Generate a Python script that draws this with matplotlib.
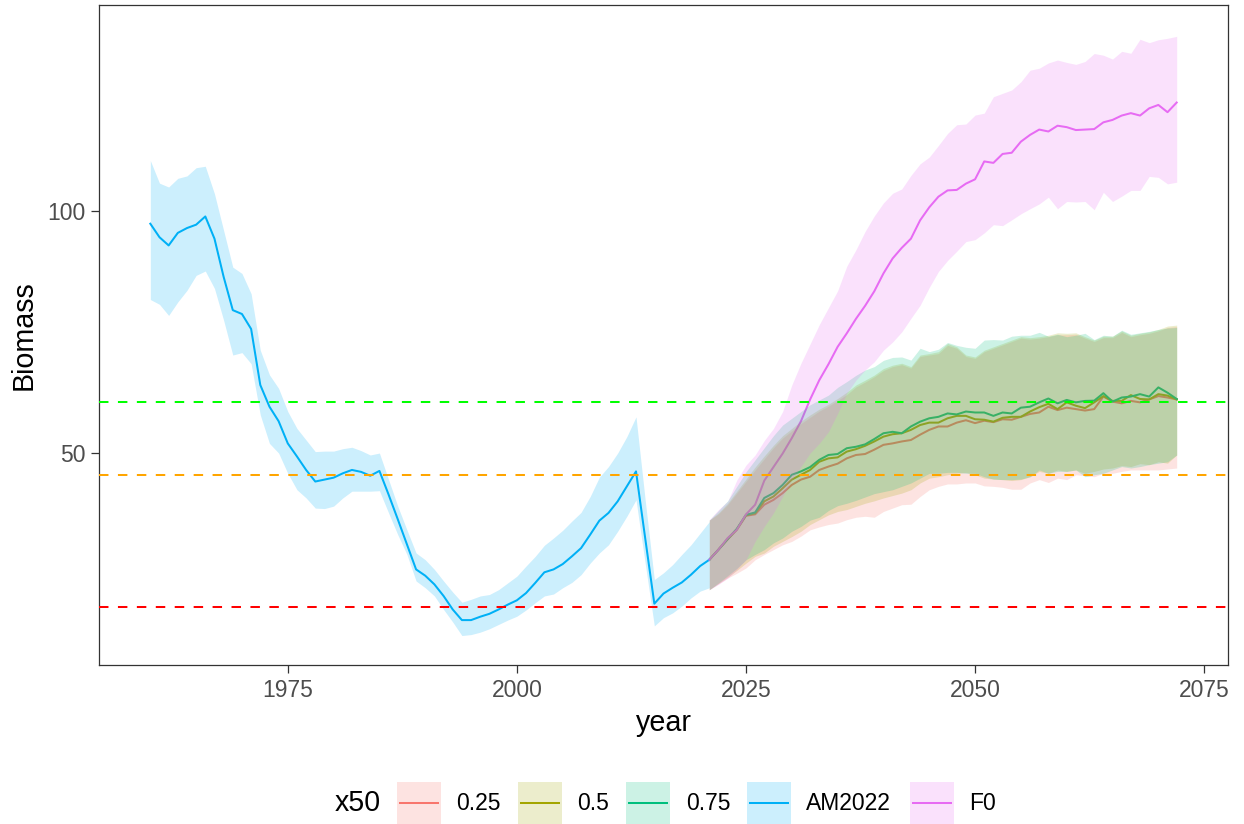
import matplotlib
matplotlib.use("Agg")
import matplotlib.pyplot as plt
from matplotlib.patches import Rectangle
from matplotlib.lines import Line2D
import numpy as np

plt.rcParams['font.family'] = ['Liberation Sans', 'DejaVu Sans']

# ---------------- data ----------------
years_hist = list(range(1960, 2022))
am_mid = [97.4, 94.6, 92.9, 95.5, 96.5, 97.2, 98.9, 94.3, 86.4, 79.5,
          78.7, 75.6, 64.0, 59.5, 56.5, 51.9, 49.2, 46.4, 44.0, 44.4,
          44.8, 45.7, 46.4, 46.0, 45.2, 46.2, 41.3, 36.2, 31.0, 25.8,
          24.5, 22.7, 20.3, 17.5, 15.3, 15.3, 16.0, 16.6, 17.5, 18.5,
          19.4, 20.9, 23.0, 25.2, 25.8, 26.9, 28.5, 30.2, 33.0, 35.9,
          37.5, 39.9, 43.0, 46.1, 32.3, 18.7, 20.8, 22.0, 23.1, 24.7,
          26.5, 27.8]
am_hi = [110.5, 105.8, 105.0, 106.8, 107.3, 109.0, 109.3, 103.6, 96.0, 88.4,
         87.1, 82.9, 71.2, 66.1, 63.3, 58.5, 55.0, 52.6, 50.2, 50.3,
         50.3, 50.8, 51.1, 50.4, 49.5, 49.9, 44.4, 38.9, 34.0, 29.2,
         27.8, 25.8, 23.4, 21.1, 19.0, 19.6, 20.3, 20.6, 21.6, 23.0,
         24.4, 26.5, 28.5, 30.8, 32.3, 33.9, 35.8, 37.6, 40.9, 44.9,
         47.1, 49.9, 53.3, 57.4, 40.2, 23.7, 25.1, 26.8, 28.9, 30.9,
         33.3, 35.7]
am_lo = [81.7, 80.7, 78.4, 81.2, 83.6, 86.7, 87.6, 84.0, 77.4, 70.2,
         70.7, 68.4, 57.8, 51.9, 49.9, 45.7, 42.3, 40.6, 38.5, 38.4,
         38.9, 40.6, 42.0, 42.0, 42.0, 42.1, 37.5, 33.0, 28.9, 23.4,
         22.0, 20.3, 17.5, 14.9, 12.1, 12.3, 12.8, 13.5, 14.4, 15.3,
         16.1, 17.4, 18.9, 20.3, 20.7, 22.0, 23.1, 24.7, 27.1, 29.2,
         30.9, 33.7, 36.8, 40.2, 27.1, 14.1, 15.8, 16.8, 18.2, 19.9,
         21.3, 22.0]

years_proj = list(range(2021, 2073))

q25_mid = [27.8, 29.9, 32.0, 34.0, 36.9, 37.2, 39.2, 40.2, 41.6, 43.3,
           44.4, 45.0, 46.4, 47.1, 47.7, 48.8, 49.5, 49.7, 50.6, 51.6,
           51.9, 52.3, 52.6, 53.7, 54.7, 55.4, 55.4, 56.2, 56.7, 56.1,
           56.6, 56.3, 56.9, 56.8, 57.4, 58.0, 58.3, 59.5, 58.8, 59.3,
           59.0, 58.7, 59.0, 61.6, 60.55, 60.2, 60.7, 60.4, 61.0, 61.7,
           61.4, 61.0]
q25_hi = [36.0, 37.3, 39.2, 41.6, 44.0, 46.4, 48.7, 51.0, 53.0, 54.5,
          56.0, 57.3, 58.6, 59.6, 60.8, 62.0, 63.6, 64.6, 65.7, 67.0,
          67.8, 68.2, 67.5, 69.9, 70.2, 70.5, 72.2, 71.6, 69.9, 69.5,
          70.9, 71.6, 72.3, 73.0, 73.7, 73.5, 73.7, 74.0, 74.4, 74.4,
          74.5, 73.7, 73.0, 73.8, 73.8, 74.9, 74.0, 74.4, 74.7, 75.2,
          75.9, 76.1]
q25_lo = [21.6, 22.8, 24.0, 25.0, 26.1, 27.8, 28.9, 29.9, 30.9, 31.6,
          32.7, 34.0, 34.6, 35.1, 35.4, 36.1, 36.6, 36.8, 36.6, 37.8,
          38.5, 39.2, 39.3, 40.9, 42.3, 43.0, 43.5, 43.5, 43.7, 43.7,
          43.1, 43.0, 42.8, 42.4, 42.4, 43.7, 44.4, 43.8, 44.7, 44.4,
          45.4, 45.2, 45.0, 45.7, 45.7, 46.1, 46.4, 46.4, 46.4, 46.4,
          46.6, 46.8]

q50_mid = [27.8, 29.9, 32.1, 34.1, 37.0, 37.4, 39.9, 40.9, 42.6, 44.4,
           45.4, 46.4, 48.1, 48.8, 49.0, 50.2, 50.7, 51.4, 52.3, 53.3,
           53.8, 54.0, 54.7, 55.7, 56.2, 56.2, 57.1, 57.6, 57.6, 56.9,
           56.8, 56.4, 57.2, 57.4, 57.4, 58.5, 59.4, 60.1, 59.0, 60.4,
           59.7, 59.2, 60.4, 61.7, 60.7, 60.7, 61.9, 61.1, 61.0, 62.1,
           61.8, 61.0]
q50_hi = [36.0, 37.5, 39.5, 42.0, 44.5, 47.0, 49.3, 51.5, 53.5, 55.0,
          56.5, 57.8, 59.0, 60.0, 61.2, 62.5, 64.0, 65.0, 66.05, 67.4,
          68.1, 68.5, 67.8, 70.2, 70.5, 70.9, 72.6, 71.9, 70.2, 69.8,
          71.2, 71.9, 72.6, 73.3, 74.0, 73.8, 74.0, 74.3, 74.8, 74.7,
          74.8, 74.0, 73.3, 74.1, 74.1, 75.2, 74.3, 74.7, 75.0, 75.5,
          76.2, 76.4]
q50_lo = [21.6, 22.9, 24.2, 25.6, 27.1, 28.5, 29.2, 30.6, 31.6, 32.6,
          33.7, 35.1, 36.1, 37.1, 37.8, 38.2, 38.85, 39.5, 40.0, 40.6,
          41.1, 41.6, 42.3, 43.7, 44.7, 45.0, 45.4, 45.7, 45.9, 45.4,
          44.7, 44.5, 44.4, 44.2, 44.4, 45.0, 46.1, 45.7, 46.4, 46.1,
          46.4, 45.7, 46.1, 46.6, 46.8, 47.3, 47.1, 47.7, 47.5, 48.1,
          47.8, 49.5]

q75_mid = [27.8, 29.9, 32.1, 34.2, 37.1, 37.6, 40.6, 41.6, 43.3, 45.4,
           46.1, 47.0, 48.5, 49.5, 49.7, 50.9, 51.2, 51.7, 52.8, 54.0,
           54.3, 54.0, 55.4, 56.4, 57.1, 57.4, 58.1, 57.9, 58.5, 58.3,
           58.3, 57.6, 58.3, 58.1, 59.3, 59.5, 60.4, 61.2, 60.2, 60.9,
           60.4, 60.7, 60.75, 62.3, 60.55, 61.4, 61.6, 62.1, 61.6, 63.5,
           62.4, 61.1]
q75_hi = [36.0, 38.0, 40.0, 43.0, 46.0, 48.5, 51.0, 53.5, 55.7, 57.1,
          58.5, 59.9, 60.9, 61.9, 63.5, 64.7, 66.0, 67.1, 67.8, 69.1,
          69.7, 69.8, 69.15, 71.6, 70.9, 71.4, 72.8, 72.2, 71.8, 71.6,
          73.3, 73.4, 73.3, 74.1, 74.3, 74.3, 74.9, 74.1, 74.5, 74.0,
          74.3, 74.7, 73.4, 74.3, 74.1, 75.35, 74.5, 74.8, 75.1, 75.5,
          75.8, 75.9]
q75_lo = [21.6, 23.0, 24.5, 26.0, 27.8, 28.9, 29.9, 31.3, 32.3, 33.7,
          34.7, 36.0, 36.6, 38.0, 39.0, 39.5, 40.1, 40.8, 41.5, 41.9,
          42.3, 43.0, 43.7, 44.7, 45.7, 45.7, 45.9, 45.9, 45.7, 45.7,
          45.0, 44.5, 44.4, 44.4, 44.5, 45.0, 46.4, 45.7, 46.1, 46.1,
          46.4, 45.0, 45.4, 45.7, 46.4, 47.1, 46.8, 47.1, 47.5, 47.8,
          48.1, 49.5]

f0_mid = [27.8, 29.9, 32.3, 34.0, 37.2, 39.2, 44.2, 47.0, 49.8, 53.0,
          56.5, 61.0, 65.0, 68.3, 71.9, 74.7, 77.7, 80.4, 83.4, 87.1,
          90.2, 92.4, 94.3, 98.1, 100.8, 103.0, 104.3, 104.4, 105.7, 106.6,
          110.3, 110.0, 111.85, 112.1, 114.4, 115.8, 116.9, 116.5, 117.7, 117.4,
          116.8, 116.9, 117.0, 118.4, 118.9, 119.8, 120.3, 119.8, 121.3, 122.0,
          120.5, 122.5]
f0_hi = [36.1, 38.2, 39.9, 44.3, 47.4, 49.5, 52.5, 55.0, 58.5, 64.0,
         68.5, 72.5, 76.5, 80.0, 83.5, 88.6, 92.0, 95.8, 99.0, 101.7,
         103.7, 104.6, 107.4, 109.8, 111.2, 113.6, 116.1, 117.9, 118.05, 119.9,
         120.3, 123.7, 124.4, 125.1, 126.8, 129.2, 129.6, 130.7, 131.3, 130.8,
         130.4, 131.0, 132.65, 132.3, 131.5, 133.1, 132.7, 135.6, 134.9, 135.5,
         135.8, 136.2]
f0_lo = [21.6, 22.7, 24.0, 25.8, 27.8, 31.6, 34.7, 37.5, 40.9, 44.4,
         47.1, 49.9, 51.9, 54.3, 58.1, 62.3, 65.0, 67.1, 68.8, 71.2,
         72.9, 75.0, 77.8, 80.5, 84.2, 87.5, 89.8, 91.7, 93.7, 94.1,
         95.5, 97.2, 97.0, 98.2, 99.45, 100.5, 101.5, 102.9, 100.5, 102.0,
         101.9, 102.0, 100.3, 103.9, 102.0, 103.1, 104.3, 104.3, 107.2, 107.0,
         105.65, 106.0]

ref_levels = [60.5, 45.4, 18.1]
ref_colors = ['#00FF00', '#FFA500', '#FF0000']

series_names = ['0.25', '0.5', '0.75', 'AM2022', 'F0']
series_colors = ['#F8766D', '#A3A500', '#00BF7D', '#00B0F6', '#E76BF3']

x_ticks = [1975, 2000, 2025, 2050, 2075]
y_ticks = [50, 100]

# ---------------- figure ----------------
W, H = 1244, 824
fig = plt.figure(figsize=(W / 100, H / 100), dpi=100)
ax = fig.add_axes([99 / W, 1 - 665 / H, (1228 - 99) / W, (665 - 5) / H])

series = [
    (years_proj, q25_mid, q25_lo, q25_hi),
    (years_proj, q50_mid, q50_lo, q50_hi),
    (years_proj, q75_mid, q75_lo, q75_hi),
    (years_hist, am_mid, am_lo, am_hi),
    (years_proj, f0_mid, f0_lo, f0_hi),
]

lw = 1.45
for (xs, mid, lo, hi), col in zip(series, series_colors):
    ax.plot(xs, mid, color=col, lw=lw, zorder=2, solid_joinstyle='round')
for (xs, mid, lo, hi), col in zip(series, series_colors):
    ax.fill_between(xs, lo, hi, color=col, alpha=0.2, lw=0, zorder=3)

for lvl, col in zip(ref_levels, ref_colors):
    ax.axhline(lvl, color=col, lw=lw, dashes=(4.7, 4.7), zorder=4)

ax.set_xlim(1954.4, 2077.6)
ax.set_ylim(6.0, 142.7)
ax.set_xticks(x_ticks)
ax.set_yticks(y_ticks)

for s in ax.spines.values():
    s.set_color('#333333')
    s.set_linewidth(0.9)
ax.tick_params(axis='both', length=5.5, width=0.9, color='#333333',
               labelcolor='#4D4D4D', labelsize=16.5, pad=4.5)

ax.set_xlabel('year', fontsize=20.6, color='black', labelpad=5)
ax.set_ylabel('Biomass', fontsize=20.6, color='black', labelpad=7)

# ---------------- legend (bottom, horizontal) ----------------
def fx(px):
    return px / W

def fy(py):
    return 1 - py / H

fig.text(fx(335), fy(803), 'x50', fontsize=20.6, ha='left', va='center')
key_left = [397, 518, 626, 747, 910]
label_left = [456, 577, 686, 806, 969]
kw, kh = 44, 44
ktop = 782
for name, col, kl, ll in zip(series_names, series_colors, key_left, label_left):
    fig.add_artist(Rectangle((fx(kl), fy(ktop + kh)), kw / W, kh / H,
                             transform=fig.transFigure, facecolor=col,
                             alpha=0.2, edgecolor='none'))
    fig.add_artist(Line2D([fx(kl + 3), fx(kl + kw - 3)], [fy(803), fy(803)],
                          transform=fig.transFigure, color=col, lw=lw))
    fig.text(fx(ll), fy(803), name, fontsize=16.5, ha='left', va='center')

fig.savefig('out.png', dpi=100, facecolor='white')
